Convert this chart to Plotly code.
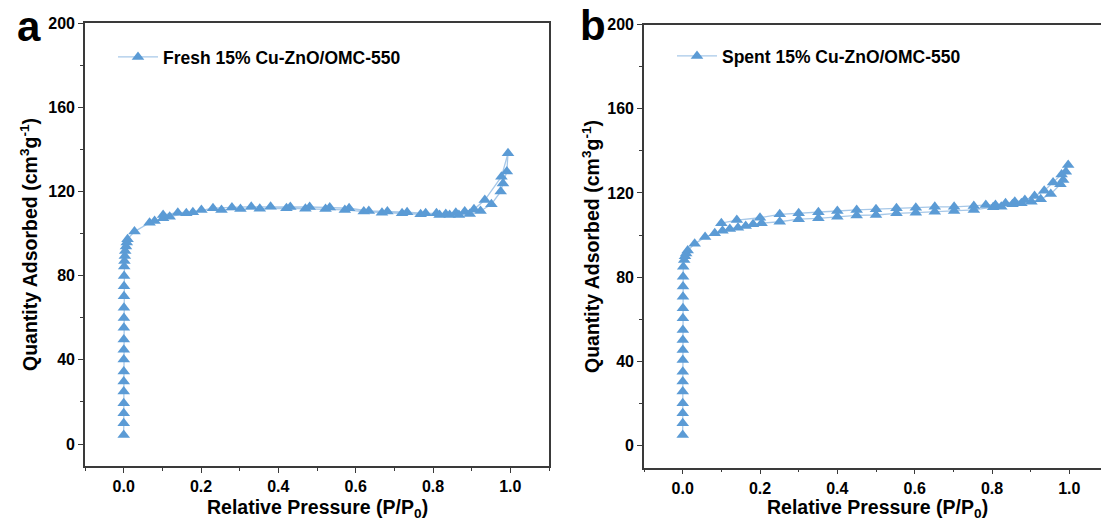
import plotly.graph_objects as go

# ---------------- data ----------------
# Panel a: Fresh 15% Cu-ZnO/OMC-550
a_ads_p = [0.0001, 0.0001, 0.0001, 0.0002, 0.0002, 0.0002, 0.0003, 0.0003, 0.0004, 0.0004,
           0.0005, 0.0006, 0.0007, 0.0008, 0.0009, 0.0011, 0.0014, 0.002, 0.003, 0.004,
           0.006, 0.008, 0.01,
           0.028, 0.067, 0.080, 0.102, 0.119, 0.162, 0.201, 0.253, 0.302, 0.352, 0.421,
           0.470, 0.522, 0.572, 0.621, 0.668, 0.720, 0.768, 0.817, 0.843, 0.867, 0.895,
           0.923, 0.951, 0.975, 0.981, 0.991, 0.994]
a_ads_q = [4.3, 9.9, 14.6, 19.4, 24.9, 29.7, 34.5, 40.1, 44.8, 49.6,
           55.2, 59.9, 64.7, 70.2, 75.0, 79.8, 84.3, 86.9, 89.3, 91.7,
           93.8, 95.7, 97.3,
           100.9, 105.1, 105.9, 107.2, 108.0, 109.6, 111.2, 111.2, 111.6, 111.8, 112.0,
           111.8, 111.6, 111.2, 110.4, 109.9, 109.6, 109.1, 108.8, 108.8, 108.8, 109.3,
           110.7, 113.9, 119.9, 123.8, 129.4, 138.1]
a_des_p = [0.977, 0.934, 0.906, 0.882, 0.859, 0.833, 0.809, 0.781, 0.733, 0.682,
           0.634, 0.583, 0.533, 0.481, 0.431, 0.380, 0.330, 0.280, 0.231, 0.179,
           0.140, 0.102]
a_des_q = [127.0, 115.9, 111.5, 110.4, 109.9, 109.3, 109.6, 109.6, 110.1, 110.4,
           110.7, 112.0, 112.4, 112.6, 112.6, 112.7, 112.7, 112.4, 112.0, 110.1,
           109.9, 108.8]

# Panel b: Spent 15% Cu-ZnO/OMC-550
b_ads_p = [0.0001, 0.0001, 0.0001, 0.0002, 0.0002, 0.0002, 0.0003, 0.0003, 0.0004, 0.0004,
           0.0005, 0.0006, 0.0007, 0.0008, 0.0009, 0.0011, 0.0015, 0.004, 0.006, 0.009,
           0.013,
           0.031, 0.058, 0.083, 0.103, 0.122, 0.143, 0.163, 0.182, 0.204, 0.251, 0.300,
           0.351, 0.400, 0.450, 0.500, 0.553, 0.603, 0.652, 0.702, 0.753, 0.803, 0.824,
           0.853, 0.876, 0.902, 0.926, 0.952, 0.977, 0.984, 0.991, 0.997]
b_ads_q = [5.0, 10.6, 15.3, 20.1, 25.6, 30.4, 35.0, 40.6, 45.4, 50.1,
           54.9, 60.4, 65.2, 70.7, 75.5, 80.2, 84.9, 88.1, 89.9, 91.2,
           92.6,
           95.8, 99.0, 100.8, 102.0, 102.9, 103.5, 104.3, 105.1, 105.6, 106.3, 107.5,
           107.9, 108.7, 109.3, 109.5, 110.3, 110.6, 111.1, 111.4, 111.9, 113.2, 113.4,
           114.6, 115.1, 115.8, 117.0, 119.5, 124.1, 126.1, 130.1, 133.3]
b_des_p = [0.980, 0.958, 0.935, 0.910, 0.885, 0.859, 0.835, 0.809, 0.784, 0.753,
           0.702, 0.652, 0.603, 0.553, 0.500, 0.450, 0.400, 0.351, 0.300, 0.251,
           0.200, 0.140, 0.100]
b_des_q = [128.8, 125.0, 121.0, 118.5, 116.6, 115.8, 115.1, 114.3, 114.3, 113.8,
           113.4, 113.4, 113.0, 112.7, 112.2, 111.9, 111.4, 110.8, 110.3, 109.8,
           108.2, 107.1, 105.6]

labels = ["Fresh 15% Cu-ZnO/OMC-550", "Spent 15% Cu-ZnO/OMC-550"]
panel_letters = ["a", "b"]
x_ticks = [0.0, 0.2, 0.4, 0.6, 0.8, 1.0]
y_ticks = [0, 40, 80, 120, 160, 200]

# ---------------- styling ----------------
W, H = 1101, 524
FONT = "Liberation Sans, Arial, sans-serif"
MARK = "#5b9bd5"
LINE = "#a7c8e8"
AX = "#3a3a3a"

fig = go.Figure()

fig.add_trace(go.Scatter(
    x=a_ads_p + a_des_p, y=a_ads_q + a_des_q, mode="lines+markers", name=labels[0],
    line=dict(color=LINE, width=1.3),
    marker=dict(symbol="triangle-up", size=11, color=MARK, line=dict(width=0)),
    xaxis="x", yaxis="y", legend="legend"))
fig.add_trace(go.Scatter(
    x=b_ads_p + b_des_p, y=b_ads_q + b_des_q, mode="lines+markers", name=labels[1],
    line=dict(color=LINE, width=1.3),
    marker=dict(symbol="triangle-up", size=11, color=MARK, line=dict(width=0)),
    xaxis="x2", yaxis="y2", legend="legend2"))

def px_x(p):
    return p / W

def px_y(p):
    return 1 - p / H

tickfont = dict(family=FONT, size=16, color="black", weight="bold")

def xaxis(domain, rng, anchor):
    return dict(domain=domain, range=rng, anchor=anchor, tickvals=x_ticks,
                ticktext=[f"{v:.1f}" for v in x_ticks],
                ticks="outside", ticklen=5, tickwidth=1.3, tickcolor=AX,
                minor=dict(ticks="outside", ticklen=3, dtick=0.1, tick0=0, tickcolor=AX,
                           tickwidth=1.2, showgrid=False),
                showline=True, linecolor=AX, linewidth=1.6, mirror=True,
                showgrid=False, zeroline=False, tickfont=tickfont)

def yaxis(domain, rng, anchor, mirror):
    return dict(domain=domain, range=rng, anchor=anchor, tickvals=y_ticks,
                ticks="outside", ticklen=5, tickwidth=1.3, tickcolor=AX,
                minor=dict(ticks="outside", ticklen=3, dtick=20, tick0=0, tickcolor=AX,
                           tickwidth=1.2, showgrid=False),
                showline=True, linecolor=AX, linewidth=1.6, mirror=mirror,
                showgrid=False, zeroline=False, tickfont=tickfont)

# pixel geometry of the two plot areas
a_l, a_r, a_t, a_b = 85, 549, 23, 466
b_l, b_t, b_b = 644, 24.5, 467.5
unit = (a_r - a_l) / 1.2          # px per 1.0 of P/P0
b_xmax = -0.1 + (W - b_l) / unit

legfont = dict(family=FONT, size=17.5, color="black", weight="bold")

fig.update_layout(
    width=W, height=H,
    margin=dict(l=0, r=0, t=0, b=0, autoexpand=False),
    paper_bgcolor="white", plot_bgcolor="white",
    font=dict(family=FONT, color="black"),
    xaxis=xaxis([px_x(a_l), px_x(a_r)], [-0.1, 1.1], "y"),
    yaxis=yaxis([px_y(a_b), px_y(a_t)], [-10.45, 200], "x", True),
    xaxis2=xaxis([px_x(b_l), 1.0], [-0.1, b_xmax], "y2"),
    yaxis2=yaxis([px_y(b_b), px_y(b_t)], [-10.45, 200], "x2", False),
    legend=dict(x=px_x(113), y=px_y(57), xanchor="left", yanchor="middle",
                itemwidth=40, bgcolor="rgba(0,0,0,0)", borderwidth=0, font=legfont),
    legend2=dict(x=px_x(672), y=px_y(56), xanchor="left", yanchor="middle",
                 itemwidth=40, bgcolor="rgba(0,0,0,0)", borderwidth=0, font=legfont),
    showlegend=True,
)

title_font = dict(family=FONT, size=19.5, color="black", weight="bold")
annotations = [
    dict(text="Relative Pressure (P/P<sub>0</sub>)", x=px_x(317), y=px_y(508),
         xref="paper", yref="paper", showarrow=False, font=title_font,
         xanchor="center", yanchor="middle"),
    dict(text="Relative Pressure (P/P<sub>0</sub>)", x=px_x(877), y=px_y(508),
         xref="paper", yref="paper", showarrow=False, font=title_font,
         xanchor="center", yanchor="middle"),
    dict(text="Quantity Adsorbed (cm<sup>3</sup>g<sup>-1</sup>)", x=px_x(29), y=px_y(245),
         xref="paper", yref="paper", showarrow=False, font=title_font, textangle=-90,
         xanchor="center", yanchor="middle"),
    dict(text="Quantity Adsorbed (cm<sup>3</sup>g<sup>-1</sup>)", x=px_x(591), y=px_y(247),
         xref="paper", yref="paper", showarrow=False, font=title_font, textangle=-90,
         xanchor="center", yanchor="middle"),
    dict(text=panel_letters[0], x=px_x(29), y=px_y(26), xref="paper", yref="paper",
         showarrow=False, xanchor="center", yanchor="middle",
         font=dict(family=FONT, size=42, color="black", weight="bold")),
    dict(text=panel_letters[1], x=px_x(593), y=px_y(25), xref="paper", yref="paper",
         showarrow=False, xanchor="center", yanchor="middle",
         font=dict(family=FONT, size=42, color="black", weight="bold")),
]
fig.update_layout(annotations=annotations)

fig.write_html("out.html")
